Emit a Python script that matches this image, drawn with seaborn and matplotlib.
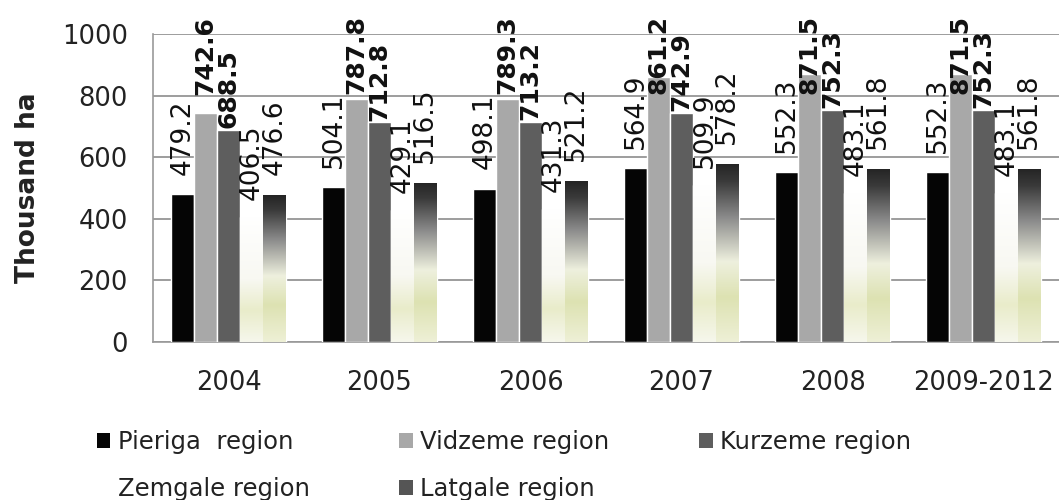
import numpy as np
import pandas as pd
import seaborn as sns
import matplotlib.pyplot as plt
from matplotlib.colors import LinearSegmentedColormap
from matplotlib.patches import Patch

years = ['2004', '2005', '2006', '2007', '2008', '2009-2012']
regions = ['Pieriga  region', 'Vidzeme region', 'Kurzeme region',
           'Zemgale region', 'Latgale region']
pieriga = [479.2, 504.1, 498.1, 564.9, 552.3, 552.3]
vidzeme = [742.6, 787.8, 789.3, 861.2, 871.5, 871.5]
kurzeme = [688.5, 712.8, 713.2, 742.9, 752.3, 752.3]
zemgale = [406.5, 429.1, 431.3, 509.9, 483.1, 483.1]
latgale = [476.6, 516.5, 521.2, 578.2, 561.8, 561.8]

df = pd.DataFrame({
    'Year': years * 5,
    'Region': np.repeat(regions, len(years)),
    'Area': pieriga + vidzeme + kurzeme + zemgale + latgale,
})

colors = ['#050505', '#a8a8a8', '#5e5e5e', '#ffffff', '#404040']

sns.set_style('white')
plt.rcParams['font.family'] = ['DejaVu Sans']

fig = plt.figure(figsize=(10.59, 5), dpi=100)
ax = fig.add_axes([153 / 1059, 1 - 342 / 500, 906 / 1059, 308 / 500])
sns.barplot(data=df, x='Year', y='Area', hue='Region', palette=colors,
            width=0.76, saturation=1, errorbar=None, legend=False, ax=ax,
            zorder=3)

# gradient fills for the last two series
grad = np.linspace(0, 1, 256).reshape(-1, 1)
cmaps = {
    3: LinearSegmentedColormap.from_list('zem', [
        (0, '#f6f7ec'), (0.25, '#e9ecca'), (0.5, '#f8f8f2'), (1, '#ffffff')]),
    4: LinearSegmentedColormap.from_list('lat', [
        (0, '#eef0d6'), (0.25, '#dde2b2'), (0.45, '#eef0de'),
        (0.7, '#8a8a8a'), (0.9, '#3a3a3a'), (1, '#242424')]),
}
for i, cmap in cmaps.items():
    for p in ax.containers[i]:
        x0, y0 = p.get_x(), p.get_y()
        w, h = p.get_width(), p.get_height()
        im = ax.imshow(grad, extent=[x0, x0 + w, y0, y0 + h], aspect='auto',
                       cmap=cmap, origin='lower', zorder=3)
        im.set_clip_path(p)
        p.set_facecolor('none')

# value labels: pad above bar, pushed down when they would leave the chart
pads = [62, 60, 6, 55, 65]
bolds = [False, True, True, False, False]
cap = 805
for cont, pad, b in zip(ax.containers, pads, bolds):
    for p in cont:
        v = p.get_height()
        ax.text(p.get_x() + p.get_width() / 2, min(v + pad, cap), f'{v:.1f}',
                rotation=90, ha='center', va='bottom',
                fontsize=18 if b else 19, fontweight='bold' if b else 'normal',
                color='#111', zorder=5, clip_on=False)

ax.set_xlim(-0.5, 5.5)
ax.set_ylim(0, 1000)
ax.set_yticks(range(0, 1001, 200))
ax.grid(axis='y', color='#8c8c8c', linewidth=1.2, zorder=0)
ax.set_axisbelow(True)
for s in ['top', 'right']:
    ax.spines[s].set_visible(False)
for s in ['left', 'bottom']:
    ax.spines[s].set_color('#9a9a9a')
    ax.spines[s].set_linewidth(1.2)
ax.tick_params(axis='y', length=6, color='#9a9a9a', pad=12, labelsize=18.5,
               labelcolor='#222')
ax.tick_params(axis='x', length=0, pad=20, labelsize=18.5, labelcolor='#222')
ax.set_xlabel('')
ax.set_ylabel('Thousand ha', fontsize=19, fontweight='bold', color='#222')
ax.yaxis.set_label_coords(-0.124, 0.5)

# legend laid out row by row (matplotlib fills column-wise)
order = [0, 3, 1, 4, 2]
handle_colors = ['#050505', '#a8a8a8', '#5e5e5e', '#ffffff', '#555555']
handles = [Patch(facecolor=handle_colors[k], edgecolor='none') for k in order]
labels = [regions[k] for k in order]
fig.legend(handles, labels, ncol=3, loc='upper left',
           bbox_to_anchor=(97 / 1059, 1 - 430 / 500), frameon=False,
           fontsize=17.5, handlelength=0.55, handleheight=0.55,
           handletextpad=0.3, columnspacing=3.7, borderpad=0,
           borderaxespad=0, labelspacing=0.95, labelcolor='#222')

plt.savefig('out.png', dpi=100)
